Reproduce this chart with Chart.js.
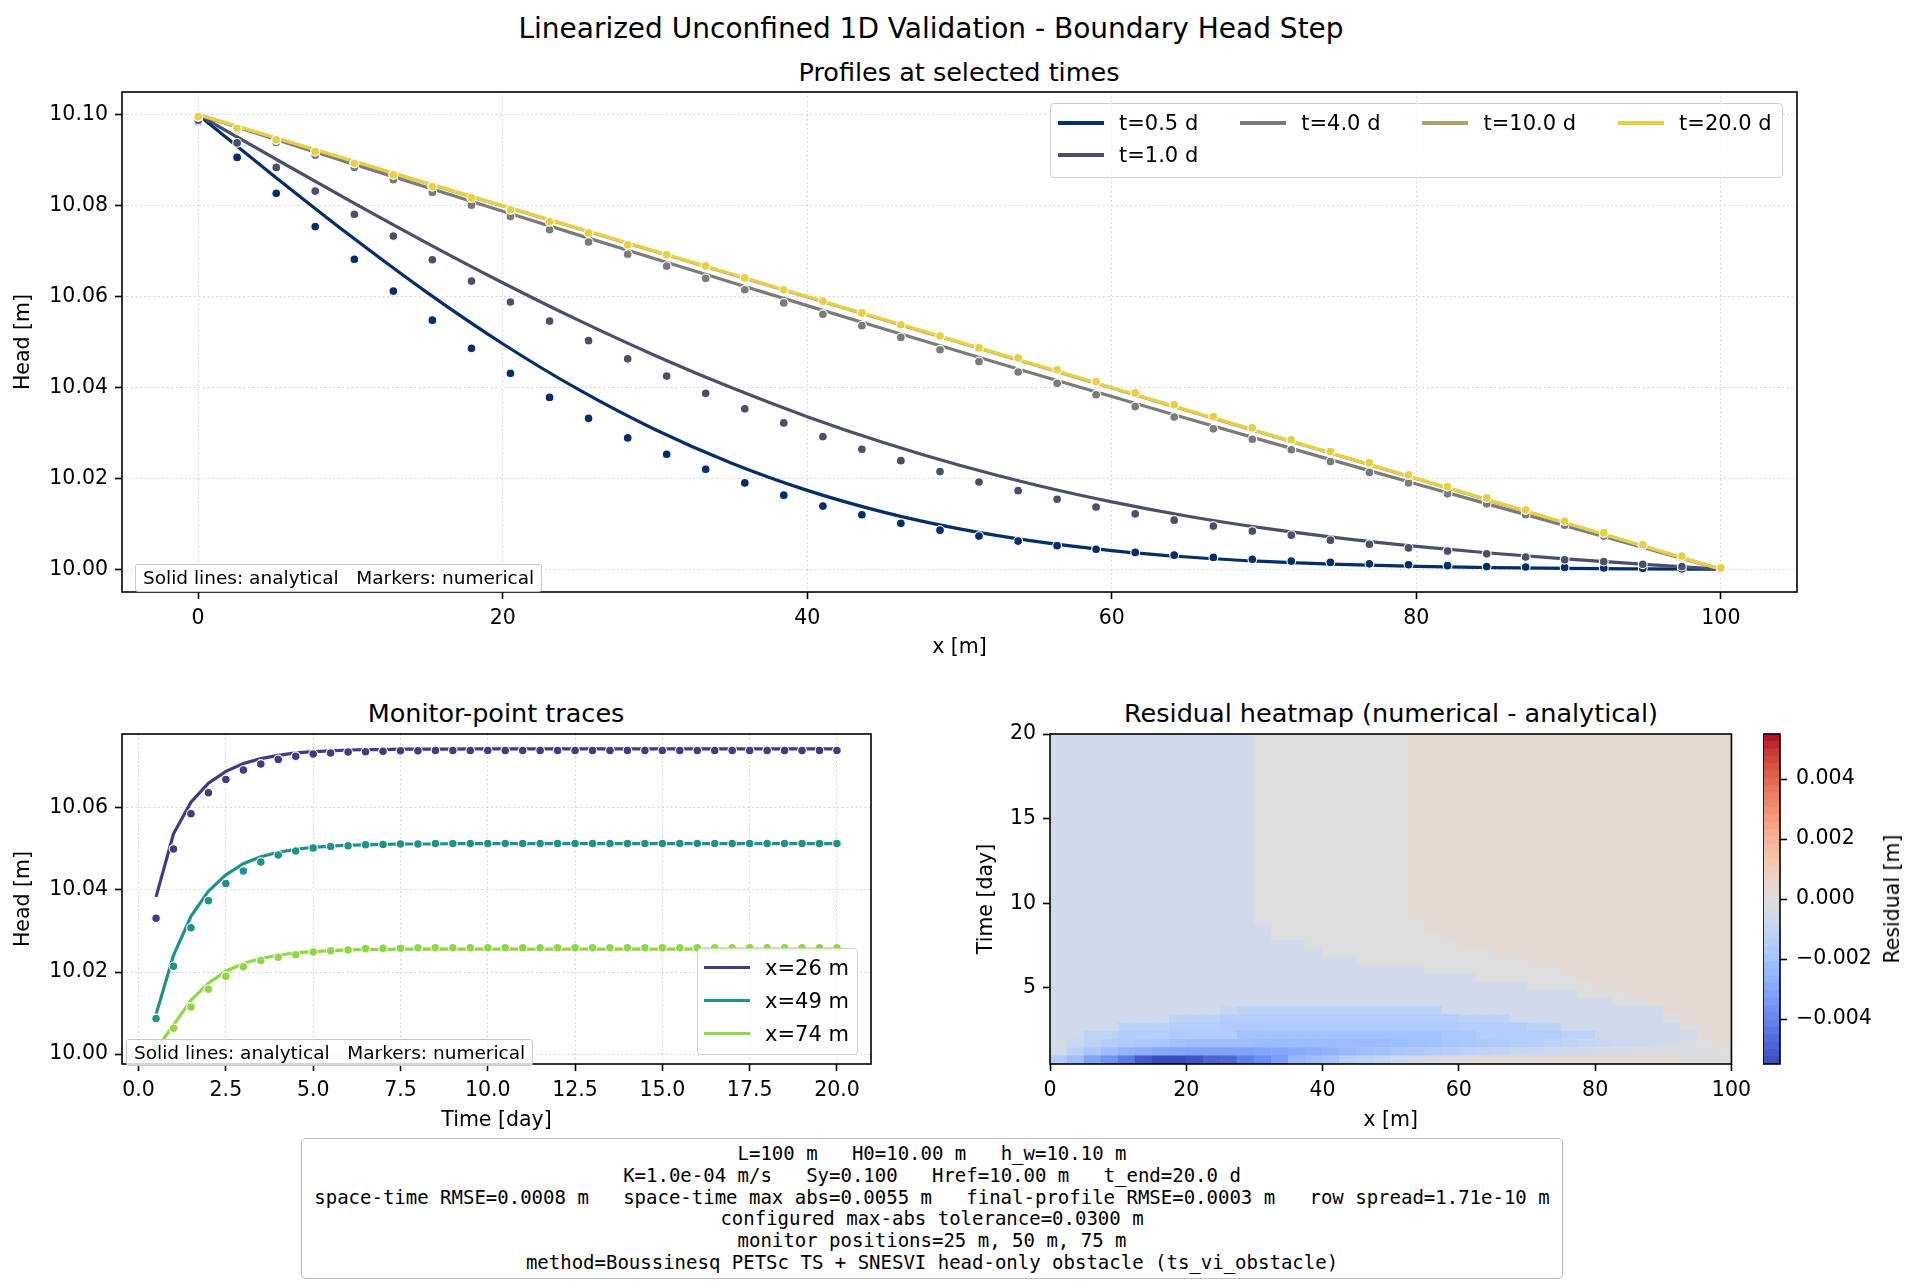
<!DOCTYPE html>
<html>
<head>
<meta charset="utf-8">
<title>Linearized Unconfined 1D Validation</title>
<script src="https://cdn.jsdelivr.net/npm/chart.js@4.4.1/dist/chart.umd.min.js"></script>
<style>
  html, body { margin: 0; padding: 0; background: #fff; }
  body { position: relative; width: 1920px; height: 1287px; overflow: hidden; font-family: "DejaVu Sans", sans-serif; color: #000; }
  .abs { position: absolute; }
  .lbl { position: absolute; white-space: nowrap; transform: translate(-50%, -50%); }
  .legend { position: absolute; display: grid; box-sizing: border-box; background: rgba(255,255,255,0.8); border: 1px solid #d0d0d0; border-radius: 4px; font-size: 21px; }
  .item { display: flex; align-items: center; gap: 15px; white-space: nowrap; }
  .handle { display: inline-block; width: 46px; height: 3.5px; }
  .note { position: absolute; box-sizing: border-box; background: rgba(255,255,255,0.8); border: 1px solid #c8c8c8; border-radius: 3px; font-size: 18.5px; padding: 0 7px; white-space: pre; line-height: 26px; }
  #params { position: absolute; left: 301px; top: 1138px; width: 1262px; height: 141px; box-sizing: border-box; border: 1px solid #bdbdbd; border-radius: 5px; font-family: "DejaVu Sans Mono", monospace; font-size: 19px; line-height: 21.8px; text-align: center; padding-top: 4px; white-space: pre; }
</style>
</head>
<body>
<div class="lbl" style="left:931px;top:28px;font-size:28px">Linearized Unconfined 1D Validation - Boundary Head Step</div>
<div class="lbl" style="left:959px;top:72px;font-size:25.5px">Profiles at selected times</div>
<div class="lbl" style="left:496px;top:713px;font-size:25.5px">Monitor-point traces</div>
<div class="lbl" style="left:1391px;top:713px;font-size:25.5px">Residual heatmap (numerical - analytical)</div>

<div class="abs" style="left:0;top:60px;width:1830px;height:602px"><canvas id="c-perfiles"></canvas></div>
<div class="abs" style="left:0;top:700px;width:901px;height:436px"><canvas id="c-monitores"></canvas></div>
<div class="abs" style="left:960px;top:700px;width:798px;height:436px"><canvas id="c-mapa"></canvas></div>
<div class="abs" style="left:1763px;top:700px;width:157px;height:394px"><canvas id="c-barra"></canvas></div>

<div id="leg-perfiles" class="legend" style="left:1050px;top:103px;grid-template-rows:32px 32px;column-gap:42px;padding:3px 10px 6px 7px"></div>
<div id="leg-monitores" class="legend" style="left:697px;top:948px;grid-template-rows:33px 33px 33px;padding:2px 8px 4px 6px"></div>
<div class="note" style="left:135px;top:564px;height:28px">Solid lines: analytical   Markers: numerical</div>
<div class="note" style="left:126px;top:1039px;height:27px">Solid lines: analytical   Markers: numerical</div>
<div class="lbl" style="left:1892px;top:899px;font-size:20.5px;transform:translate(-50%,-50%) rotate(-90deg)">Residual [m]</div>
<div id="params">L=100 m   H0=10.00 m   h_w=10.10 m
K=1.0e-04 m/s   Sy=0.100   Href=10.00 m   t_end=20.0 d
space-time RMSE=0.0008 m   space-time max abs=0.0055 m   final-profile RMSE=0.0003 m   row spread=1.71e-10 m
configured max-abs tolerance=0.0300 m
monitor positions=25 m, 50 m, 75 m
method=Boussinesq PETSc TS + SNESVI head-only obstacle (ts_vi_obstacle)</div>

<script>
// ---- Datos: perfiles ----
const profileTimes = [0.5, 1.0, 4.0, 10.0, 20.0];
const profileColors = ['#022e69', '#4a506a', '#7c7b78', '#ad9f6e', '#e8cf45'];
const xLine = [0, 5, 10, 15, 20, 25, 30, 35, 40, 45, 50, 55, 60, 65, 70, 75, 80, 85, 90, 95, 100];
const anaT05 = [10.1, 10.08649, 10.07337, 10.06098, 10.04962, 10.0395, 10.03074, 10.02338, 10.01736, 10.01258, 10.00889, 10.00613, 10.00412, 10.0027, 10.00172, 10.00107, 10.00064, 10.00037, 10.0002, 10.00009, 10.0];
const anaT1 = [10.1, 10.09043, 10.08099, 10.07182, 10.06304, 10.05475, 10.04704, 10.03997, 10.03358, 10.02788, 10.02287, 10.01853, 10.01482, 10.01167, 10.00904, 10.00686, 10.00504, 10.00352, 10.00222, 10.00108, 10.0];
const anaT4 = [10.1, 10.09467, 10.08935, 10.08405, 10.07876, 10.07351, 10.0683, 10.06313, 10.058, 10.05292, 10.0479, 10.04292, 10.038, 10.03313, 10.0283, 10.02351, 10.01876, 10.01405, 10.00935, 10.00467, 10.0];
const anaT10 = [10.1, 10.09499, 10.08996, 10.08494, 10.07993, 10.07491, 10.0699, 10.06489, 10.05988, 10.05488, 10.04987, 10.04488, 10.03988, 10.03489, 10.0299, 10.02491, 10.01993, 10.01494, 10.00996, 10.00498, 10.0];
const anaT20 = [10.1, 10.095, 10.09, 10.085, 10.08, 10.075, 10.07, 10.065, 10.06, 10.055, 10.05, 10.045, 10.04, 10.035, 10.03, 10.025, 10.02, 10.015, 10.01, 10.005, 10.0];

const xNodes = [0, 2.56, 5.13, 7.69, 10.26, 12.82, 15.38, 17.95, 20.51, 23.08,
  25.64, 28.21, 30.77, 33.33, 35.9, 38.46, 41.03, 43.59, 46.15, 48.72,
  51.28, 53.85, 56.41, 58.97, 61.54, 64.1, 66.67, 69.23, 71.79, 74.36,
  76.92, 79.49, 82.05, 84.62, 87.18, 89.74, 92.31, 94.87, 97.44, 100];
const numT05 = [10.0985, 10.0906, 10.0827, 10.0754, 10.0682, 10.0612, 10.0548, 10.0486, 10.0431, 10.0378,
  10.0332, 10.0289, 10.0253, 10.0220, 10.0190, 10.0163, 10.0139, 10.0120, 10.0101, 10.0086,
  10.0073, 10.0062, 10.0052, 10.0044, 10.0037, 10.0031, 10.0026, 10.0022, 10.0018, 10.0015,
  10.0012, 10.0010, 10.0008, 10.0006, 10.0005, 10.0004, 10.0003, 10.0002, 10.0001, 10.0000];
const numT1 = [10.0988, 10.0938, 10.0884, 10.0832, 10.0781, 10.0733, 10.0681, 10.0634, 10.0588, 10.0546,
  10.0503, 10.0463, 10.0425, 10.0387, 10.0353, 10.0322, 10.0292, 10.0264, 10.0239, 10.0215,
  10.0192, 10.0173, 10.0154, 10.0137, 10.0122, 10.0108, 10.0095, 10.0084, 10.0075, 10.0064,
  10.0055, 10.0047, 10.0040, 10.0034, 10.0027, 10.0021, 10.0017, 10.0011, 10.0006, 10.0000];
const numT4 = [10.0995, 10.0967, 10.0939, 10.0911, 10.0884, 10.0857, 10.0829, 10.0801, 10.0776, 10.0747,
  10.0720, 10.0693, 10.0667, 10.0640, 10.0615, 10.0586, 10.0561, 10.0536, 10.0510, 10.0483,
  10.0457, 10.0434, 10.0409, 10.0384, 10.0358, 10.0335, 10.0309, 10.0286, 10.0263, 10.0237,
  10.0213, 10.0190, 10.0166, 10.0144, 10.0120, 10.0097, 10.0073, 10.0051, 10.0026, 10.0001];
const numT10 = [10.0996, 10.0970, 10.0945, 10.0919, 10.0893, 10.0868, 10.0842, 10.0817, 10.0791, 10.0765,
  10.0740, 10.0714, 10.0692, 10.0667, 10.0641, 10.0615, 10.0590, 10.0564, 10.0538, 10.0513,
  10.0487, 10.0465, 10.0439, 10.0413, 10.0388, 10.0362, 10.0336, 10.0311, 10.0285, 10.0259,
  10.0234, 10.0208, 10.0182, 10.0157, 10.0131, 10.0106, 10.0080, 10.0054, 10.0029, 10.0003];
const numT20 = [10.0996, 10.0970, 10.0945, 10.0919, 10.0893, 10.0868, 10.0842, 10.0817, 10.0791, 10.0765,
  10.0740, 10.0714, 10.0692, 10.0667, 10.0641, 10.0615, 10.0590, 10.0564, 10.0538, 10.0513,
  10.0487, 10.0465, 10.0439, 10.0413, 10.0388, 10.0362, 10.0336, 10.0311, 10.0285, 10.0259,
  10.0234, 10.0208, 10.0182, 10.0157, 10.0131, 10.0106, 10.0080, 10.0054, 10.0029, 10.0003];
const anaProfiles = [anaT05, anaT1, anaT4, anaT10, anaT20];
const numProfiles = [numT05, numT1, numT4, numT10, numT20];

// ---- Datos: puntos de monitoreo ----
const monitorLabels = ['x=26 m', 'x=49 m', 'x=74 m'];
const monitorColors = ['#443983', '#21918c', '#8fd744'];
const monitorTimes = [0.5, 1, 1.5, 2, 2.5, 3, 3.5, 4, 4.5, 5, 5.5, 6, 6.5, 7, 7.5, 8, 8.5, 9, 9.5, 10,
  10.5, 11, 11.5, 12, 12.5, 13, 13.5, 14, 14.5, 15, 15.5, 16, 16.5, 17, 17.5, 18, 18.5, 19, 19.5, 20];
const anaX26 = [10.0383, 10.0537, 10.0614, 10.0660, 10.0689, 10.0708, 10.0720, 10.0728, 10.0734, 10.0737,
  10.0739, 10.0741, 10.0742, 10.0742, 10.0743, 10.0743, 10.0743, 10.0743, 10.0744, 10.0744,
  10.0744, 10.0744, 10.0744, 10.0744, 10.0744, 10.0744, 10.0744, 10.0744, 10.0744, 10.0744,
  10.0744, 10.0744, 10.0744, 10.0744, 10.0744, 10.0744, 10.0744, 10.0744, 10.0744, 10.0744];
const numX26 = [10.0331, 10.0500, 10.0586, 10.0637, 10.0669, 10.0692, 10.0707, 10.0718, 10.0726, 10.0731,
  10.0734, 10.0736, 10.0737, 10.0738, 10.0739, 10.0739, 10.0740, 10.0740, 10.0740, 10.0740,
  10.0740, 10.0740, 10.0740, 10.0740, 10.0740, 10.0740, 10.0740, 10.0740, 10.0740, 10.0740,
  10.0740, 10.0740, 10.0740, 10.0740, 10.0740, 10.0740, 10.0740, 10.0740, 10.0740, 10.0740];
const anaX49 = [10.0097, 10.0241, 10.0336, 10.0397, 10.0437, 10.0464, 10.0481, 10.0492, 10.0499, 10.0504,
  10.0507, 10.0509, 10.0510, 10.0511, 10.0512, 10.0512, 10.0512, 10.0513, 10.0513, 10.0513,
  10.0513, 10.0513, 10.0513, 10.0513, 10.0513, 10.0513, 10.0513, 10.0513, 10.0513, 10.0513,
  10.0513, 10.0513, 10.0513, 10.0513, 10.0513, 10.0513, 10.0513, 10.0513, 10.0513, 10.0513];
const numX49 = [10.0087, 10.0214, 10.0308, 10.0374, 10.0416, 10.0446, 10.0468, 10.0485, 10.0495, 10.0502,
  10.0506, 10.0508, 10.0510, 10.0511, 10.0512, 10.0512, 10.0513, 10.0513, 10.0513, 10.0513,
  10.0513, 10.0513, 10.0513, 10.0513, 10.0513, 10.0513, 10.0513, 10.0513, 10.0513, 10.0513,
  10.0513, 10.0513, 10.0513, 10.0513, 10.0513, 10.0513, 10.0513, 10.0513, 10.0513, 10.0513];
const anaX74 = [10.0011, 10.0071, 10.0131, 10.0173, 10.0202, 10.0221, 10.0233, 10.0241, 10.0247, 10.0250,
  10.0252, 10.0254, 10.0255, 10.0255, 10.0256, 10.0256, 10.0256, 10.0256, 10.0256, 10.0256,
  10.0256, 10.0256, 10.0256, 10.0256, 10.0256, 10.0256, 10.0256, 10.0256, 10.0256, 10.0256,
  10.0256, 10.0256, 10.0256, 10.0256, 10.0256, 10.0256, 10.0256, 10.0256, 10.0256, 10.0256];
const numX74 = [10.0014, 10.0063, 10.0115, 10.0158, 10.0190, 10.0213, 10.0228, 10.0236, 10.0242, 10.0249,
  10.0252, 10.0254, 10.0257, 10.0258, 10.0258, 10.0259, 10.0259, 10.0259, 10.0259, 10.0259,
  10.0259, 10.0259, 10.0259, 10.0259, 10.0259, 10.0259, 10.0259, 10.0259, 10.0259, 10.0259,
  10.0259, 10.0259, 10.0259, 10.0259, 10.0259, 10.0259, 10.0259, 10.0259, 10.0259, 10.0259];
const anaMonitors = [anaX26, anaX49, anaX74];
const numMonitors = [numX26, numX49, numX74];

// ---- Datos: mapa de residuos (filas = tiempos 0.5..20 d, columnas = 40 nodos, en 1e-4 m) ----
const heatX = [0, 100];
const resMin = -0.0055, resMax = 0.0055;
const residual = [
  [-16,-22,-32,-36,-43,-51,-55,-55,-53,-49, -48,-42,-38,-33,-24,-22,-20,-14,-12,-10, -7,-5,-3,-1,0,3,3,3,3,3, 3,3,3,3,3,3,3,0,0,0],
  [-5,-13,-18,-22,-26,-28,-30,-31,-32,-32, -32,-32,-31,-30,-29,-28,-26,-24,-22,-20, -19,-17,-15,-14,-13,-11,-10,-9,-8,-7, -6,-5,-4,-4,-3,-3,-2,-2,-1,0],
  [-4,-8,-12,-15,-16,-17,-18,-21,-22,-22, -22,-22,-23,-23,-23,-23,-23,-23,-23,-23, -22,-21,-20,-19,-18,-17,-16,-15,-14,-13, -11,-9,-8,-7,-6,-5,-4,-3,0,3],
  [-5,-5,-12,-12,-15,-15,-15,-16,-16,-16, -16,-21,-21,-21,-21,-21,-21,-21,-21,-21, -21,-21,-21,-18,-18,-15,-15,-15,-15,-15, -13,-13,-6,-6,-6,-6,-6,-4,3,3],
  [-5,-5,-5,-5,-12,-12,-12,-15,-15,-15, -16,-16,-16,-16,-16,-16,-16,-16,-16,-16, -16,-16,-16,-16,-15,-15,-15,-15,-12,-12, -5,-5,-5,-5,-5,-5,-5,0,3,3],
  [-5,-5,-5,-5,-5,-5,-5,-12,-12,-12, -15,-15,-15,-15,-15,-15,-15,-15,-15,-15, -15,-15,-15,-15,-12,-12,-12,-5,-5,-5, -5,-5,-5,-5,-5,-5,0,3,3,3],
  [-5,-5,-5,-5,-5,-5,-5,-5,-5,-5, -9,-12,-12,-12,-12,-12,-12,-12,-12,-12, -12,-12,-12,-5,-5,-5,-5,-5,-5,-5, -5,-5,-5,-5,-5,-5,3,3,3,3],
  [-5,-5,-5,-5,-5,-5,-5,-5,-5,-5, -5,-5,-5,-5,-5,-5,-5,-5,-5,-5, -5,-5,-5,-5,-5,-5,-5,-5,-5,-5, -5,-5,-5,0,0,3,3,3,3,3],
  [-5,-5,-5,-5,-5,-5,-5,-5,-5,-5, -5,-5,-5,-5,-5,-5,-5,-5,-5,-5, -5,-5,-5,-5,-5,-5,-5,-5,-5,-5, -5,0,0,0,3,3,3,3,3,3],
  [-5,-5,-5,-5,-5,-5,-5,-5,-5,-5, -5,-5,-5,-5,-5,-5,-5,-5,-5,-5, -5,-5,-5,-5,-5,-5,-5,-5,0,0, 0,0,3,3,3,3,3,3,3,3],
  [-5,-5,-5,-5,-5,-5,-5,-5,-5,-5, -5,-5,-5,-5,-5,-5,-5,-5,-5,-5, -5,-5,-5,-5,-5,0,0,0,0,0, 0,3,3,3,3,3,3,3,3,3],
  [-5,-5,-5,-5,-5,-5,-5,-5,-5,-5, -5,-5,-5,-5,-5,-5,-5,-5,-5,-5, -5,-5,0,0,0,0,0,0,0,0, 3,3,3,3,3,3,3,3,3,3],
  [-5,-5,-5,-5,-5,-5,-5,-5,-5,-5, -5,-5,-5,-5,-5,-5,-5,-5,0,0, 0,0,0,0,0,0,0,0,3,3, 3,3,3,3,3,3,3,3,3,3],
  [-5,-5,-5,-5,-5,-5,-5,-5,-5,-5, -5,-5,-5,-5,-5,-5,0,0,0,0, 0,0,0,0,0,0,3,3,3,3, 3,3,3,3,3,3,3,3,3,3],
  [-5,-5,-5,-5,-5,-5,-5,-5,-5,-5, -5,-5,-5,-5,-5,0,0,0,0,0, 0,0,0,0,3,3,3,3,3,3, 3,3,3,3,3,3,3,3,3,3],
  [-5,-5,-5,-5,-5,-5,-5,-5,-5,-5, -5,-5,-5,0,0,0,0,0,0,0, 0,0,0,3,3,3,3,3,3,3, 3,3,3,3,3,3,3,3,3,3],
  [-5,-5,-5,-5,-5,-5,-5,-5,-5,-5, -5,-5,-5,0,0,0,0,0,0,0, 0,0,3,3,3,3,3,3,3,3, 3,3,3,3,3,3,3,3,3,3],
  [-5,-5,-5,-5,-5,-5,-5,-5,-5,-5, -5,-5,0,0,0,0,0,0,0,0, 0,0,3,3,3,3,3,3,3,3, 3,3,3,3,3,3,3,3,3,3],
  [-5,-5,-5,-5,-5,-5,-5,-5,-5,-5, -5,-5,0,0,0,0,0,0,0,0, 0,3,3,3,3,3,3,3,3,3, 3,3,3,3,3,3,3,3,3,3],
  [-5,-5,-5,-5,-5,-5,-5,-5,-5,-5, -5,-5,0,0,0,0,0,0,0,0, 0,3,3,3,3,3,3,3,3,3, 3,3,3,3,3,3,3,3,3,3],
  [-5,-5,-5,-5,-5,-5,-5,-5,-5,-5, -5,-5,0,0,0,0,0,0,0,0, 0,3,3,3,3,3,3,3,3,3, 3,3,3,3,3,3,3,3,3,3],
  [-5,-5,-5,-5,-5,-5,-5,-5,-5,-5, -5,-5,0,0,0,0,0,0,0,0, 0,3,3,3,3,3,3,3,3,3, 3,3,3,3,3,3,3,3,3,3],
  [-5,-5,-5,-5,-5,-5,-5,-5,-5,-5, -5,-5,0,0,0,0,0,0,0,0, 0,3,3,3,3,3,3,3,3,3, 3,3,3,3,3,3,3,3,3,3],
  [-5,-5,-5,-5,-5,-5,-5,-5,-5,-5, -5,-5,0,0,0,0,0,0,0,0, 0,3,3,3,3,3,3,3,3,3, 3,3,3,3,3,3,3,3,3,3],
  [-5,-5,-5,-5,-5,-5,-5,-5,-5,-5, -5,-5,0,0,0,0,0,0,0,0, 0,3,3,3,3,3,3,3,3,3, 3,3,3,3,3,3,3,3,3,3],
  [-5,-5,-5,-5,-5,-5,-5,-5,-5,-5, -5,-5,0,0,0,0,0,0,0,0, 0,3,3,3,3,3,3,3,3,3, 3,3,3,3,3,3,3,3,3,3],
  [-5,-5,-5,-5,-5,-5,-5,-5,-5,-5, -5,-5,0,0,0,0,0,0,0,0, 0,3,3,3,3,3,3,3,3,3, 3,3,3,3,3,3,3,3,3,3],
  [-5,-5,-5,-5,-5,-5,-5,-5,-5,-5, -5,-5,0,0,0,0,0,0,0,0, 0,3,3,3,3,3,3,3,3,3, 3,3,3,3,3,3,3,3,3,3],
  [-5,-5,-5,-5,-5,-5,-5,-5,-5,-5, -5,-5,0,0,0,0,0,0,0,0, 0,3,3,3,3,3,3,3,3,3, 3,3,3,3,3,3,3,3,3,3],
  [-5,-5,-5,-5,-5,-5,-5,-5,-5,-5, -5,-5,0,0,0,0,0,0,0,0, 0,3,3,3,3,3,3,3,3,3, 3,3,3,3,3,3,3,3,3,3],
  [-5,-5,-5,-5,-5,-5,-5,-5,-5,-5, -5,-5,0,0,0,0,0,0,0,0, 0,3,3,3,3,3,3,3,3,3, 3,3,3,3,3,3,3,3,3,3],
  [-5,-5,-5,-5,-5,-5,-5,-5,-5,-5, -5,-5,0,0,0,0,0,0,0,0, 0,3,3,3,3,3,3,3,3,3, 3,3,3,3,3,3,3,3,3,3],
  [-5,-5,-5,-5,-5,-5,-5,-5,-5,-5, -5,-5,0,0,0,0,0,0,0,0, 0,3,3,3,3,3,3,3,3,3, 3,3,3,3,3,3,3,3,3,3],
  [-5,-5,-5,-5,-5,-5,-5,-5,-5,-5, -5,-5,0,0,0,0,0,0,0,0, 0,3,3,3,3,3,3,3,3,3, 3,3,3,3,3,3,3,3,3,3],
  [-5,-5,-5,-5,-5,-5,-5,-5,-5,-5, -5,-5,0,0,0,0,0,0,0,0, 0,3,3,3,3,3,3,3,3,3, 3,3,3,3,3,3,3,3,3,3],
  [-5,-5,-5,-5,-5,-5,-5,-5,-5,-5, -5,-5,0,0,0,0,0,0,0,0, 0,3,3,3,3,3,3,3,3,3, 3,3,3,3,3,3,3,3,3,3],
  [-5,-5,-5,-5,-5,-5,-5,-5,-5,-5, -5,-5,0,0,0,0,0,0,0,0, 0,3,3,3,3,3,3,3,3,3, 3,3,3,3,3,3,3,3,3,3],
  [-5,-5,-5,-5,-5,-5,-5,-5,-5,-5, -5,-5,0,0,0,0,0,0,0,0, 0,3,3,3,3,3,3,3,3,3, 3,3,3,3,3,3,3,3,3,3],
  [-5,-5,-5,-5,-5,-5,-5,-5,-5,-5, -5,-5,0,0,0,0,0,0,0,0, 0,3,3,3,3,3,3,3,3,3, 3,3,3,3,3,3,3,3,3,3],
  [-5,-5,-5,-5,-5,-5,-5,-5,-5,-5, -5,-5,0,0,0,0,0,0,0,0, 0,3,3,3,3,3,3,3,3,3, 3,3,3,3,3,3,3,3,3,3]
];

// ---- Ejes: marcas ----
const profXTicks = [0, 20, 40, 60, 80, 100];
const profYTicks = [10.00, 10.02, 10.04, 10.06, 10.08, 10.10];
const monXTicks = [0, 2.5, 5, 7.5, 10, 12.5, 15, 17.5, 20];
const monYTicks = [10.00, 10.02, 10.04, 10.06];
const heatXTicks = [0, 20, 40, 60, 80, 100];
const heatYTicks = [5, 10, 15, 20];
const barTicks = [-0.004, -0.002, 0, 0.002, 0.004];

// coolwarm de matplotlib, 33 paradas
const coolwarmStops = [
  [59,76,192],[68,90,204],[77,104,215],[87,117,225],[98,130,234],[108,142,241],[119,154,247],[130,165,251],
  [141,176,254],[152,185,255],[163,194,255],[174,201,253],[184,208,249],[194,213,244],[204,217,238],[213,219,230],
  [221,221,221],[229,216,209],[236,211,197],[241,204,184],[245,196,172],[246,187,160],[247,177,148],[246,165,136],
  [244,154,123],[241,141,111],[236,127,99],[229,112,88],[222,96,77],[213,80,66],[203,62,56],[192,40,47],[180,4,38]
];
function coolwarm(v) {
  let f = (v - resMin) / (resMax - resMin);
  f = Math.min(1, Math.max(0, f));
  const p = f * (coolwarmStops.length - 1);
  const i = Math.min(coolwarmStops.length - 2, Math.floor(p));
  const u = p - i, a = coolwarmStops[i], b = coolwarmStops[i + 1];
  return 'rgb(' + [0, 1, 2].map(c => Math.round(a[c] + (b[c] - a[c]) * u)).join(',') + ')';
}

Chart.defaults.font.family = '"DejaVu Sans", sans-serif';
Chart.defaults.font.size = 20.5;
Chart.defaults.color = '#000';
Chart.defaults.animation = false;

// marco negro alrededor del área de trazado
const marco = {
  id: 'marco',
  afterDatasetsDraw(chart) {
    const a = chart.chartArea, ctx = chart.ctx;
    ctx.save();
    ctx.strokeStyle = '#000';
    ctx.lineWidth = 1.6;
    ctx.strokeRect(a.left, a.top, a.right - a.left, a.bottom - a.top);
    ctx.restore();
  }
};

function eje(o) {
  return {
    type: 'linear', min: o.min, max: o.max, bounds: 'data', position: o.pos, offset: false,
    afterBuildTicks: s => { s.ticks = o.ticks.map(v => ({ value: v })); },
    afterFit: s => { if (o.size != null) { if (s.isHorizontal()) s.height = o.size; else s.width = o.size; } },
    ticks: { callback: o.fmt, font: { size: 20.5 }, color: '#000', padding: o.pad != null ? o.pad : 7, maxRotation: 0, autoSkip: false },
    grid: { display: true, offset: false, drawOnChartArea: !!o.grid, color: 'rgba(170,170,170,0.6)', lineWidth: 1,
            tickLength: 7, tickColor: '#000', tickWidth: 1.6, tickBorderDash: [] },
    border: { display: false, dash: [1.5, 3] },
    title: o.title ? { display: true, text: o.title, font: { size: 20.5 }, color: '#000', padding: o.titlePad } : { display: false }
  };
}
const baseOpts = (padding, scales) => ({
  responsive: true, maintainAspectRatio: false, devicePixelRatio: 1, animation: false,
  layout: { padding: padding, autoPadding: false },
  plugins: { legend: { display: false }, tooltip: { enabled: false } },
  events: [],
  scales: scales
});

// ---- Perfiles ----
var dsPerfiles = [];
profileTimes.forEach(function (t, k) {
  var col = profileColors[k];
  dsPerfiles.push({
    label: 't=' + t.toFixed(1) + ' d', showLine: true,
    data: xLine.map(function (x, i) { return { x: x, y: anaProfiles[k][i] }; }),
    borderColor: col, borderWidth: 3.2, pointRadius: 0, cubicInterpolationMode: 'monotone',
    order: 2 * (profileTimes.length - 1 - k) + 2
  });
  dsPerfiles.push({
    label: 'num ' + t, showLine: false,
    data: xNodes.map(function (x, i) { return { x: x, y: numProfiles[k][i] }; }),
    pointRadius: 4.4, pointBackgroundColor: col, pointBorderColor: '#fff', pointBorderWidth: 1.1,
    order: 2 * (profileTimes.length - 1 - k) + 1
  });
});
new Chart(document.getElementById('c-perfiles'), {
  type: 'scatter',
  data: { datasets: dsPerfiles },
  options: baseOpts({ top: 32, right: 33, left: 0, bottom: 0 }, {
    x: eje({ min: -5, max: 105, ticks: profXTicks, fmt: v => String(v), size: 70, grid: true,
             title: 'x [m]', titlePad: { top: 0, bottom: 1.7 } }),
    y: eje({ min: 9.995, max: 10.105, ticks: profYTicks, fmt: v => v.toFixed(2), size: 122, grid: true, pos: 'left',
             title: 'Head [m]', titlePad: { top: 11.5, bottom: 0 } })
  }),
  plugins: [marco]
});

// ---- Trazas de monitoreo ----
var dsMon = [];
monitorLabels.forEach(function (lab, m) {
  var col = monitorColors[m];
  dsMon.push({
    label: lab, showLine: true,
    data: monitorTimes.map(function (t, i) { return { x: t, y: anaMonitors[m][i] }; }),
    borderColor: col, borderWidth: 3.2, pointRadius: 0, tension: 0, order: 2 * (3 - m) + 2
  });
  dsMon.push({
    label: 'num ' + lab, showLine: false,
    data: monitorTimes.map(function (t, i) { return { x: t, y: numMonitors[m][i] }; }),
    pointRadius: 4.3, pointBackgroundColor: col, pointBorderColor: '#fff', pointBorderWidth: 1.1,
    order: 2 * (3 - m) + 1
  });
});
new Chart(document.getElementById('c-monitores'), {
  type: 'scatter',
  data: { datasets: dsMon },
  options: baseOpts({ top: 34, right: 30, left: 0, bottom: 0 }, {
    x: eje({ min: -0.475, max: 20.975, ticks: monXTicks, fmt: v => v.toFixed(1), size: 72, grid: true,
             title: 'Time [day]', titlePad: { top: 0, bottom: 3.2 } }),
    y: eje({ min: 9.9976, max: 10.078, ticks: monYTicks, fmt: v => v.toFixed(2), size: 122, grid: true, pos: 'left',
             title: 'Head [m]', titlePad: { top: 11.7, bottom: 0 } })
  }),
  plugins: [marco]
});

// ---- Mapa de residuos: barras flotantes, una fila por tiempo ----
var tMin = monitorTimes[0], tMax = monitorTimes[monitorTimes.length - 1];
var nCols = residual[0].length;
var cellW = (heatX[1] - heatX[0]) / nCols;
var rowH = (tMax - tMin) / residual.length;
var dsMapa = residual.map(function (fila, k) {
  return {
    data: fila.map(function (r, j) { return { x: heatX[0] + (j + 0.5) * cellW, y: [tMin + k * rowH, tMin + (k + 1) * rowH] }; }),
    backgroundColor: fila.map(function (r) { return coolwarm(r * 1e-4); }),
    borderWidth: 0, grouped: false, barPercentage: 1, categoryPercentage: 1
  };
});
new Chart(document.getElementById('c-mapa'), {
  type: 'bar',
  data: { datasets: dsMapa },
  options: baseOpts({ top: 34, right: 25, left: 0, bottom: 0 }, {
    x: eje({ min: heatX[0], max: heatX[1], ticks: heatXTicks, fmt: v => String(v), size: 72,
             title: 'x [m]', titlePad: { top: 0, bottom: 3 } }),
    y: eje({ min: tMin, max: tMax, ticks: heatYTicks, fmt: v => String(v), size: 90, pos: 'left',
             title: 'Time [day]', titlePad: { top: 14.7, bottom: 0 } })
  }),
  plugins: [marco]
});

// ---- Barra de color ----
var nBandas = 45;
var dsBarra = [];
for (var b = 0; b < nBandas; b++) {
  var v0 = resMin + (resMax - resMin) * b / nBandas, v1 = resMin + (resMax - resMin) * (b + 1) / nBandas;
  dsBarra.push({ data: [[v0, v1]], backgroundColor: coolwarm((v0 + v1) / 2), borderWidth: 0,
                 grouped: false, barPercentage: 1, categoryPercentage: 1 });
}
new Chart(document.getElementById('c-barra'), {
  type: 'bar',
  data: { labels: ['r'], datasets: dsBarra },
  options: baseOpts({ top: 34, right: 0, left: 0, bottom: 30 }, {
    x: { display: false },
    y: eje({ min: resMin, max: resMax, ticks: barTicks, size: 140, pos: 'right', pad: 9,
             fmt: v => (v < 0 ? '\u2212' : '') + Math.abs(v).toFixed(3) })
  }),
  plugins: [marco]
});

// ---- Leyendas ----
function leyenda(el, labels, colors, slots) {
  labels.forEach(function (lab, i) {
    var it = document.createElement('div');
    it.className = 'item';
    it.style.gridColumn = slots[i][0];
    it.style.gridRow = slots[i][1];
    it.innerHTML = '<span class="handle" style="background:' + colors[i] + '"></span><span>' + lab + '</span>';
    el.appendChild(it);
  });
}
leyenda(document.getElementById('leg-perfiles'), profileTimes.map(t => 't=' + t.toFixed(1) + ' d'), profileColors,
        [[1, 1], [1, 2], [2, 1], [3, 1], [4, 1]]);
leyenda(document.getElementById('leg-monitores'), monitorLabels, monitorColors, [[1, 1], [1, 2], [1, 3]]);
</script>
</body>
</html>
